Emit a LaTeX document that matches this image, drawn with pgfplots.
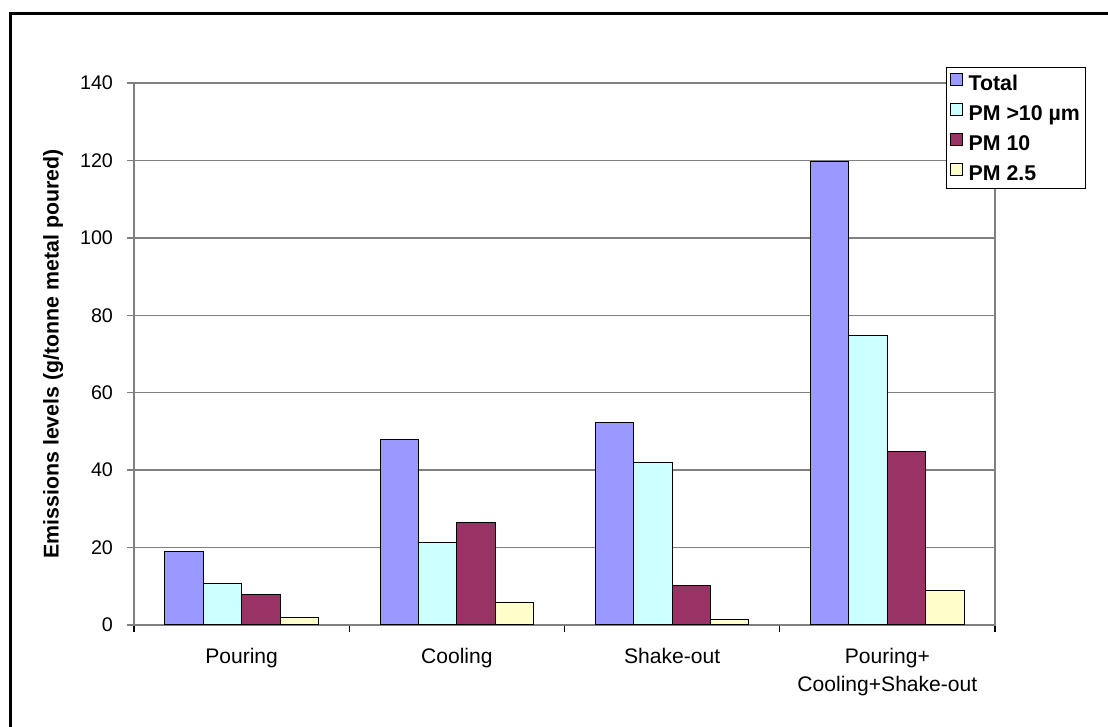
\documentclass[border=0pt]{standalone}
\usepackage{pgfplots}
\pgfplotsset{compat=1.18}
\usepackage{fontspec}
\setmainfont{Liberation Sans}
\definecolor{cTotal}{RGB}{153,153,255}
\definecolor{cBig}{RGB}{204,255,255}
\definecolor{cTen}{RGB}{153,51,102}
\definecolor{cTwo}{RGB}{255,255,204}
\definecolor{axgray}{RGB}{128,128,128}
\begin{document}
\begin{tikzpicture}
\useasboundingbox (0,0) rectangle (831pt,545.25pt);
\draw[line width=2.25pt] (7.5pt,-10pt) -- (7.5pt,534.75pt) -- (845pt,534.75pt);
\begin{axis}[
  at={(100.5pt,76.5pt)}, anchor=south west,
  scale only axis, width=645.75pt, height=406.5pt,
  ybar=0pt, bar width=28.8pt,
  xmin=-0.5, xmax=3.5, ymin=0, ymax=140,
  ytick={0,20,...,140},
  xtick={0,1,2,3},
  xtick pos=bottom, ytick pos=left,
  xticklabels={Pouring, Cooling, Shake-out, {Pouring+\\Cooling+Shake-out}},
  xticklabel style={align=center, font=\fontsize{15.8}{20.5}\selectfont, yshift=-9pt},
  yticklabel style={font=\fontsize{14.8}{17}\selectfont, xshift=-7pt},
  /pgf/number format/assume math mode=true,
  minor xtick={-0.5,0.5,1.5,2.5,3.5},
  major x tick style={draw=none},
  minor x tick style={black, line width=1pt},
  ytick style={axgray, line width=1.1pt},
  tick align=outside,
  major tick length=5.25pt,
  minor tick length=5.25pt,
  ymajorgrids,
  grid style={axgray, line width=1.1pt},
  axis line style={axgray, line width=1.1pt},
  ylabel={Emissions levels (g/tonne metal poured)},
  ylabel style={font=\bfseries\fontsize{16}{19}\selectfont, at={(axis description cs:-0.094,0.5)}, anchor=center},
  legend style={at={(axis description cs:0.943,1.0295)}, anchor=north west,
    draw=black, line width=0.75pt, fill=white,
    font=\bfseries\fontsize{16}{19}\selectfont,
    inner sep=2.4pt, row sep=4pt,
    /tikz/every odd column/.append style={column sep=3pt},
    nodes={inner sep=1.5pt, text height=13.5pt, text depth=2pt}},
  legend cell align=left,
  legend image code/.code={\draw[#1, line width=0.75pt] (1pt,-1.5pt) rectangle (10pt,7.5pt);},
  every axis plot/.append style={draw=black, line width=0.75pt},
]
\addplot[fill=cTotal] coordinates {(0,19) (1,48) (2,52.3) (3,119.8)};
\addplot[fill=cBig] coordinates {(0,10.7) (1,21.2) (2,42.1) (3,74.9)};
\addplot[fill=cTen] coordinates {(0,8) (1,26.5) (2,10.3) (3,44.7)};
\addplot[fill=cTwo] coordinates {(0,2) (1,5.8) (2,1.3) (3,8.9)};
\legend{Total, PM >10 µm, PM 10, PM 2.5}
\end{axis}
\end{tikzpicture}
\end{document}
